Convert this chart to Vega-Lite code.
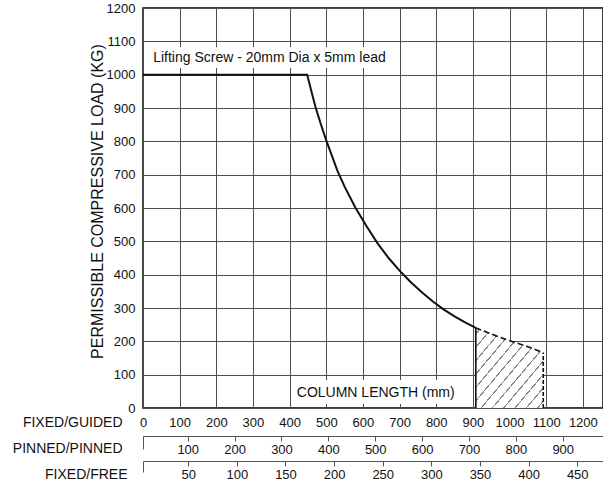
{
  "$schema": "https://vega.github.io/schema/vega-lite/v6.json",
  "width": 460,
  "height": 400,
  "autosize": {"type": "none"},
  "padding": {"left": 143, "top": 8, "right": 0, "bottom": 73},
  "background": "white",
  "config": {
    "view": {"stroke": "black", "strokeWidth": 1.5},
    "font": "Liberation Sans",
    "axis": {"labelFont": "Liberation Sans", "titleFont": "Liberation Sans", "labelColor": "#111", "titleColor": "#111", "titleFontWeight": "normal"}
  },
  "datasets": {
    "curve": [
      {"length": 0, "load": 1000}, {"length": 448, "load": 1000}, {"length": 458, "load": 956},
      {"length": 470, "load": 905}, {"length": 485, "load": 852}, {"length": 500, "load": 803},
      {"length": 515, "load": 758}, {"length": 530, "load": 713}, {"length": 550, "load": 664},
      {"length": 580, "load": 600}, {"length": 610, "load": 545}, {"length": 640, "load": 494},
      {"length": 670, "load": 450}, {"length": 700, "load": 412}, {"length": 730, "load": 378},
      {"length": 760, "load": 348}, {"length": 790, "load": 320}, {"length": 820, "load": 296},
      {"length": 850, "load": 275}, {"length": 880, "load": 256}, {"length": 907, "load": 241}
    ],
    "limit": [
      {"length": 907, "load": 241}, {"length": 950, "load": 222}, {"length": 1000, "load": 202},
      {"length": 1050, "load": 184}, {"length": 1092, "load": 166}
    ],
    "edges": [
      {"length": 908, "load": 0, "load_top": 241, "style": "solid"},
      {"length": 1092, "load": 0, "load_top": 166, "style": "dashed"}
    ],
    "boxes": [
      {"length": 12, "length_end": 680, "load": 1020, "load_end": 1082},
      {"length": 404, "length_end": 892, "load": 12, "load_end": 84}
    ],
    "notes": [
      {"length": 345, "load": 1051, "note": "Lifting Screw - 20mm Dia x 5mm lead"},
      {"length": 635, "load": 44, "note": "COLUMN LENGTH (mm)"}
    ],
    "one": [{}]
  },
  "layer": [
    {
      "encoding": {
        "x": {
          "field": "length", "type": "quantitative",
          "scale": {"domain": [0, 1255], "nice": false, "zero": false},
          "axis": {
            "orient": "bottom",
            "values": [0, 100, 200, 300, 400, 500, 600, 700, 800, 900, 1000, 1100, 1200],
            "format": "d",
            "grid": true, "gridColor": "#4d4d4d", "gridWidth": 1,
            "ticks": false, "domain": false,
            "labelFontSize": 13, "labelPadding": 8, "labelFlush": false, "labelOverlap": false,
            "title": "FIXED/GUIDED", "titleFontSize": 14, "titleAngle": 0,
            "titleAlign": "right", "titleBaseline": "middle", "titleX": -21, "titleY": 14
          }
        },
        "y": {
          "field": "load", "type": "quantitative",
          "scale": {"domain": [0, 1200], "nice": false},
          "axis": {
            "values": [0, 100, 200, 300, 400, 500, 600, 700, 800, 900, 1000, 1100, 1200],
            "format": "d",
            "grid": true, "gridColor": "#4d4d4d", "gridWidth": 1,
            "ticks": false, "domain": false,
            "labelFontSize": 13, "labelPadding": 8, "labelOverlap": false,
            "title": "PERMISSIBLE COMPRESSIVE LOAD (KG)", "titleFontSize": 16, "titlePadding": 1, "titleY": 193
          }
        }
      },
      "layer": [
        {
          "data": {"name": "boxes"},
          "mark": {"type": "rect", "fill": "white"},
          "encoding": {
            "x2": {"field": "length_end"},
            "y2": {"field": "load_end"}
          }
        },
        {
          "data": {"name": "limit"},
          "mark": {
            "type": "area",
            "stroke": null,
            "fill": {
              "gradient": "linear", "x1": 0, "y1": 0, "x2": 1, "y2": 1,
              "stops": [
                {"offset": 0, "color": "white"},
                {"offset": 0.0357, "color": "white"}, {"offset": 0.0357, "color": "#888"}, {"offset": 0.0467, "color": "#888"}, {"offset": 0.0467, "color": "white"},
                {"offset": 0.119, "color": "white"}, {"offset": 0.119, "color": "#888"}, {"offset": 0.130, "color": "#888"}, {"offset": 0.130, "color": "white"},
                {"offset": 0.2023, "color": "white"}, {"offset": 0.2023, "color": "#888"}, {"offset": 0.2133, "color": "#888"}, {"offset": 0.2133, "color": "white"},
                {"offset": 0.2857, "color": "white"}, {"offset": 0.2857, "color": "#888"}, {"offset": 0.2967, "color": "#888"}, {"offset": 0.2967, "color": "white"},
                {"offset": 0.369, "color": "white"}, {"offset": 0.369, "color": "#888"}, {"offset": 0.380, "color": "#888"}, {"offset": 0.380, "color": "white"},
                {"offset": 0.4523, "color": "white"}, {"offset": 0.4523, "color": "#888"}, {"offset": 0.4633, "color": "#888"}, {"offset": 0.4633, "color": "white"},
                {"offset": 0.5357, "color": "white"}, {"offset": 0.5357, "color": "#888"}, {"offset": 0.5467, "color": "#888"}, {"offset": 0.5467, "color": "white"},
                {"offset": 0.619, "color": "white"}, {"offset": 0.619, "color": "#888"}, {"offset": 0.630, "color": "#888"}, {"offset": 0.630, "color": "white"},
                {"offset": 0.7023, "color": "white"}, {"offset": 0.7023, "color": "#888"}, {"offset": 0.7133, "color": "#888"}, {"offset": 0.7133, "color": "white"},
                {"offset": 0.7857, "color": "white"}, {"offset": 0.7857, "color": "#888"}, {"offset": 0.7967, "color": "#888"}, {"offset": 0.7967, "color": "white"},
                {"offset": 0.869, "color": "white"}, {"offset": 0.869, "color": "#888"}, {"offset": 0.880, "color": "#888"}, {"offset": 0.880, "color": "white"},
                {"offset": 0.9523, "color": "white"}, {"offset": 0.9523, "color": "#888"}, {"offset": 0.9633, "color": "#888"}, {"offset": 0.9633, "color": "white"},
                {"offset": 1, "color": "white"}
              ]
            }
          },
          "encoding": {
            "y2": {"datum": 0}
          }
        },
        {
          "data": {"name": "limit"},
          "mark": {"type": "line", "color": "#111", "strokeWidth": 1.6, "strokeDash": [6, 3]}
        },
        {
          "data": {"name": "edges"},
          "mark": {"type": "rule", "color": "#111", "strokeWidth": 1.6},
          "encoding": {
            "y2": {"field": "load_top"},
            "strokeDash": {"field": "style", "type": "nominal", "scale": {"domain": ["solid", "dashed"], "range": [[1, 0], [4, 2]]}, "legend": null}
          }
        },
        {
          "data": {"name": "curve"},
          "mark": {"type": "line", "color": "#111", "strokeWidth": 2}
        },
        {
          "data": {"name": "notes"},
          "mark": {"type": "text", "align": "center", "baseline": "middle", "fontSize": 14, "color": "#111", "font": "Liberation Sans"},
          "encoding": {
            "text": {"field": "note"}
          }
        }
      ]
    },
    {
      "data": {"name": "one"},
      "mark": {"type": "rule", "opacity": 0},
      "encoding": {
        "x": {
          "datum": 100, "type": "quantitative",
          "scale": {"domain": [4.6, 985.9], "nice": false, "zero": false},
          "axis": {
            "orient": "bottom", "offset": 28,
            "values": [4.6, 100, 200, 300, 400, 500, 600, 700, 800, 900],
            "grid": false, "domain": true, "domainColor": "#555", "domainWidth": 1,
            "ticks": true, "tickColor": "#555",
            "tickSize": {"condition": {"test": "datum.value < 50", "value": 13}, "value": 5},
            "labelExpr": "datum.value < 50 ? '' : datum.label",
            "labelFontSize": 13, "labelPadding": 2, "labelFlush": false, "labelOverlap": false,
            "title": "PINNED/PINNED", "titleFontSize": 14, "titleAngle": 0,
            "titleAlign": "right", "titleBaseline": "middle", "titleX": -21, "titleY": 12
          }
        }
      }
    },
    {
      "data": {"name": "one"},
      "mark": {"type": "rule", "opacity": 0},
      "encoding": {
        "x": {
          "datum": 50, "type": "quantitative",
          "scale": {"domain": [3.5, 476.5], "nice": false, "zero": false},
          "axis": {
            "orient": "bottom", "offset": 53,
            "values": [3.5, 50, 100, 150, 200, 250, 300, 350, 400, 450],
            "grid": false, "domain": true, "domainColor": "#555", "domainWidth": 1,
            "ticks": true, "tickColor": "#555",
            "tickSize": {"condition": {"test": "datum.value < 25", "value": 11}, "value": 5},
            "labelExpr": "datum.value < 25 ? '' : datum.label",
            "labelFontSize": 13, "labelPadding": 2, "labelFlush": false, "labelOverlap": false,
            "title": "FIXED/FREE", "titleFontSize": 14, "titleAngle": 0,
            "titleAlign": "right", "titleBaseline": "middle", "titleX": -16, "titleY": 13
          }
        }
      }
    }
  ],
  "resolve": {"scale": {"x": "independent"}, "axis": {"x": "independent"}}
}
